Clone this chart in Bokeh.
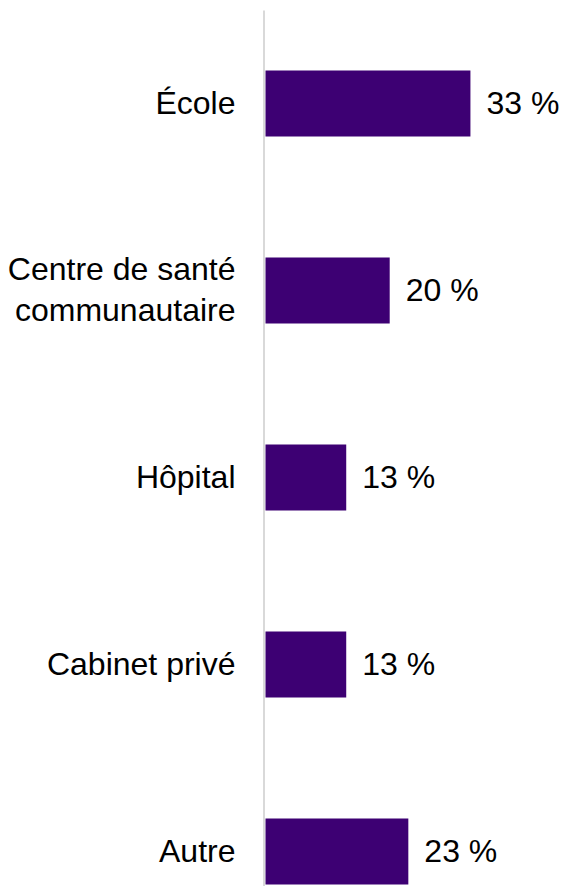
from bokeh.plotting import figure
from bokeh.models import ColumnDataSource, Range1d
from bokeh.core.properties import value
from bokeh.embed import file_html
from bokeh.resources import INLINE

categories = ["École", "Centre de santé\ncommunautaire", "Hôpital", "Cabinet privé", "Autre"]
values = [33, 20, 13, 13, 23]
value_labels = ["33 %", "20 %", "13 %", "13 %", "23 %"]

BAR_COLOR = "#3D0073"
FONT = "Liberation Sans"
PX_PER_UNIT = 6.21
ZERO_PX = 265

idx = list(range(len(categories)))
src = ColumnDataSource(dict(y=idx, v=values, cat=categories, lab=value_labels,
                            zero=[0] * len(values)))

W, H = 561, 886
p = figure(width=W, height=H, output_backend="svg", toolbar_location=None,
           x_range=Range1d(-ZERO_PX / PX_PER_UNIT, (W - ZERO_PX) / PX_PER_UNIT),
           y_range=Range1d((H - 103) / 187, (0 - 103) / 187),
           min_border=0, outline_line_color=None)
p.axis.visible = False
p.grid.visible = False
p.background_fill_color = "white"
p.border_fill_color = "white"

# vertical axis line
p.segment(x0=-1.5 / PX_PER_UNIT, x1=-1.5 / PX_PER_UNIT, y0=-0.497, y1=4.3,
          line_color="#d9d9d9", line_width=2)

p.hbar(y="y", left=0, right="v", height=0.353, source=src,
       fill_color=BAR_COLOR, line_color=None)

p.text(x="zero", y="y", text="cat", source=src, x_offset=-30, y_offset=-1,
       text_align="right", text_baseline="middle", text_font=value(FONT),
       text_font_size="32px", text_color="black", text_line_height=1.15)

p.text(x="v", y="y", text="lab", source=src, x_offset=16, y_offset=-1,
       text_align="left", text_baseline="middle", text_font=value(FONT),
       text_font_size="32px", text_color="black")

open("out.html", "w").write(file_html(p, INLINE))
